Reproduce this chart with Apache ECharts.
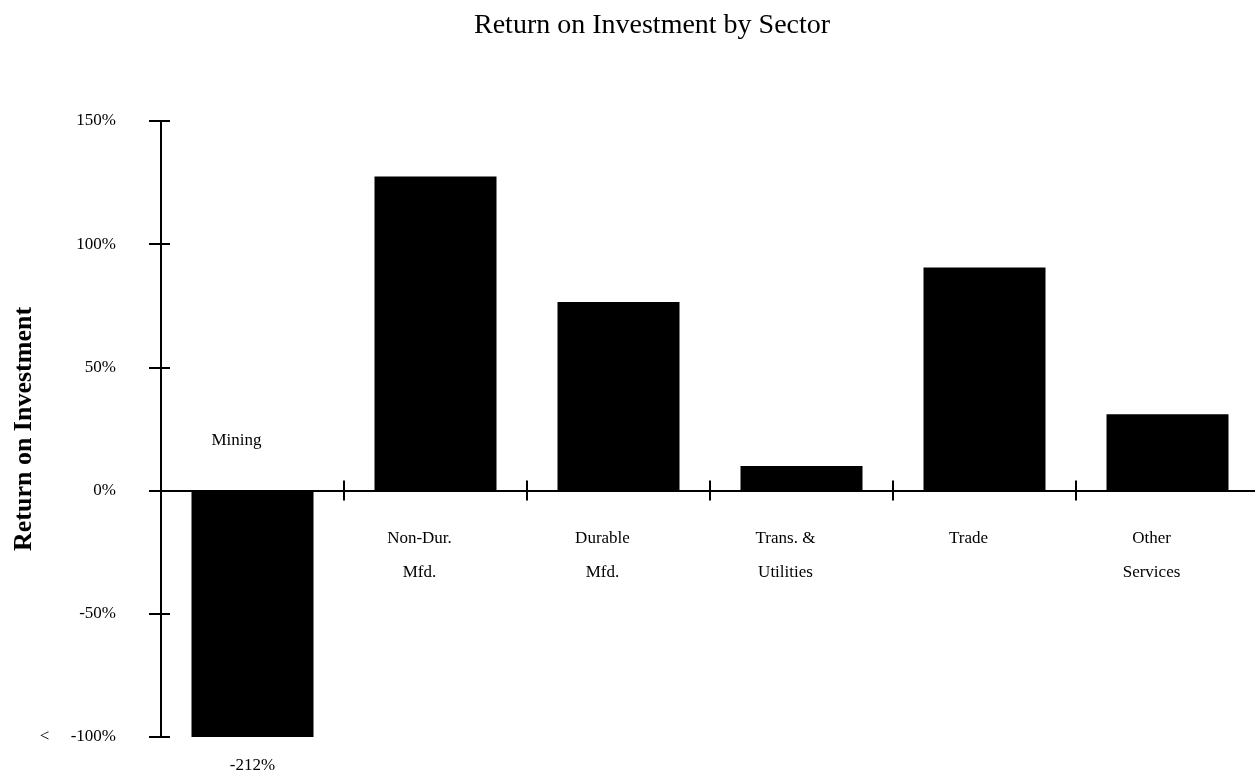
<!DOCTYPE html>
<html>
<head>
<meta charset="utf-8">
<script src="https://cdn.jsdelivr.net/npm/echarts@6/dist/echarts.min.js"></script>
<style>
html,body{margin:0;padding:0;background:#fff;}
#chart{width:1255px;height:778px;}
</style>
</head>
<body>
<div id="chart"></div>
<script>
var titleText = 'Return on Investment by Sector';
var yAxisName = 'Return on Investment';
var categories = ['Mining', 'Non-Dur.\nMfd.', 'Durable\nMfd.', 'Trans. &\nUtilities', 'Trade', 'Other\nServices'];
var roiValues = [-212, 127.5, 76.5, 10, 90.5, 31];
var yTicks = { min: -100, max: 150, step: 50 };

var FONT = '"Liberation Serif", "DejaVu Serif", serif';
var chart = echarts.init(document.getElementById('chart'));

var GRID_TOP = 121, GRID_H = 616;
var zeroFromTop = GRID_H * (yTicks.max - 0) / (yTicks.max - yTicks.min);
var zeroFromBottom = GRID_H - zeroFromTop;

var seriesData = roiValues.map(function (v, i) {
  if (v < yTicks.min) {
    return {
      value: v,
      label: {
        show: true, position: 'bottom', distance: 20,
        formatter: function (p) { return p.value + '%'; },
        fontFamily: FONT, fontSize: 17, color: '#000'
      }
    };
  }
  return v;
});

var baseX = {
  type: 'category',
  data: categories,
  boundaryGap: true,
  axisLine: { show: true, onZero: false, lineStyle: { color: '#000', width: 2 } },
  axisTick: { show: true, interval: 0, length: 10, lineStyle: { color: '#000', width: 2 } },
  splitLine: { show: false }
};

var option = {
  backgroundColor: '#fff',
  animation: false,
  title: {
    text: titleText,
    left: 469, top: 7,
    textStyle: { fontFamily: FONT, fontSize: 28, fontWeight: 'normal', color: '#000' }
  },
  grid: { left: 161, top: GRID_TOP, width: 1098, height: GRID_H, containLabel: false, outerBoundsMode: 'none' },
  xAxis: [
    Object.assign({}, baseX, {
      position: 'bottom',
      offset: -zeroFromBottom,
      axisLabel: {
        interval: function (idx) { return idx !== 0; },
        margin: 31, lineHeight: 34, padding: [0, 32, 0, 0],
        fontFamily: FONT, fontSize: 17, color: '#000'
      }
    }),
    Object.assign({}, baseX, {
      position: 'top',
      offset: -zeroFromTop,
      axisLabel: {
        interval: function (idx) { return idx === 0; },
        margin: 33, lineHeight: 34, padding: [0, 32, 0, 0],
        fontFamily: FONT, fontSize: 17, color: '#000'
      }
    })
  ],
  yAxis: [
    {
      type: 'value',
      min: yTicks.min, max: yTicks.max, interval: yTicks.step,
      position: 'left',
      name: yAxisName,
      nameLocation: 'middle',
      nameGap: 124,
      nameRotate: 90,
      nameMoveOverlap: false,
      nameTextStyle: { fontFamily: FONT, fontSize: 26, fontWeight: 'bold', color: '#000' },
      axisLine: { show: true, onZero: false, lineStyle: { color: '#000', width: 2 } },
      axisTick: { show: true, inside: false, length: 12, lineStyle: { color: '#000', width: 2 } },
      splitLine: { show: false },
      axisLabel: {
        margin: 45,
        fontFamily: FONT, fontSize: 17, color: '#000',
        formatter: function (v) { return v === yTicks.min ? '<     ' + v + '%' : v + '%'; }
      }
    },
    {
      type: 'value',
      min: yTicks.min, max: yTicks.max, interval: yTicks.step,
      position: 'left',
      axisLine: { show: false, onZero: false },
      axisTick: { show: true, inside: true, length: 9, lineStyle: { color: '#000', width: 2 } },
      splitLine: { show: false },
      axisLabel: { show: false }
    }
  ],
  series: [
    {
      type: 'bar',
      xAxisIndex: 0,
      yAxisIndex: 0,
      data: seriesData,
      barWidth: 122,
      clip: true,
      itemStyle: { color: '#000' }
    }
  ]
};
chart.setOption(option);
</script>
</body>
</html>
